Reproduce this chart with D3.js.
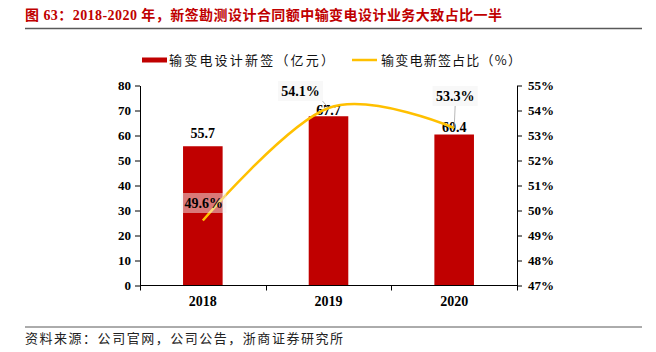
<!DOCTYPE html>
<html>
<head>
<meta charset="utf-8">
<script src="https://cdn.jsdelivr.net/npm/d3@7"></script>
<style>
body { margin:0; background:#fff; }
svg { display:block; }
</style>
</head>
<body>
<script>
var years = ["2018", "2019", "2020"];
var signed = [55.7, 67.7, 60.4];
var share = [49.6, 54.1, 53.3];
var leftTicks = [0, 10, 20, 30, 40, 50, 60, 70, 80];
var rightTicks = [47, 48, 49, 50, 51, 52, 53, 54, 55];

var titleText = "图 63：2018-2020 年，新签勘测设计合同额中输变电设计业务大致占比一半";
var legendBar = "输变电设计新签（亿元）";
var legendLine = "输变电新签占比（%）";
var sourceText = "资料来源：公司官网，公司公告，浙商证券研究所";

function main(){
	var w = 656, h = 352;
	var left = 140, right = 517, top = 85.5, bottom = 285.5;
	var serif = "'Liberation Serif','Times New Roman','Noto Sans CJK SC',serif";
	var cjk = "'Noto Sans CJK SC','Liberation Serif',sans-serif";

	var data = years.map(function(y, i){ return {year: y, signed: signed[i], share: share[i]}; });

	var svg = d3.select("body").append("svg")
				.attr("width", w)
				.attr("height", h);

	// title + rule
	svg.append("text")
			.attr("x", 25)
			.attr("y", 20)
			.text(titleText)
			.attr("fill", "#C00000")
			.attr("font-weight", "bold")
			.attr("font-size", 14)
			.attr("textLength", 477)
			.attr("lengthAdjust", "spacing")
			.attr("font-family", serif);

	svg.append("line")
			.attr("x1", 25).attr("x2", 642)
			.attr("y1", 28.5).attr("y2", 28.5)
			.attr("stroke", "#595959")
			.attr("stroke-width", 1.5);

	// legend
	svg.append("rect")
			.attr("x", 142).attr("y", 57.5)
			.attr("width", 25).attr("height", 5)
			.attr("fill", "#C00000");
	svg.append("text")
			.attr("x", 169).attr("y", 65)
			.text(legendBar)
			.attr("font-size", 13)
			.attr("textLength", 165)
			.attr("lengthAdjust", "spacing")
			.attr("fill", "#111")
			.attr("font-family", cjk);
	svg.append("line")
			.attr("x1", 352).attr("x2", 377)
			.attr("y1", 60).attr("y2", 60)
			.attr("stroke", "#FFC000")
			.attr("stroke-width", 2.5);
	svg.append("text")
			.attr("x", 381).attr("y", 65)
			.text(legendLine)
			.attr("font-size", 13)
			.attr("textLength", 140)
			.attr("lengthAdjust", "spacing")
			.attr("fill", "#111")
			.attr("font-family", cjk);

	var xScale = d3.scaleBand()
					.domain(years)
					.range([left, right]);

	var yScale = d3.scaleLinear()
					.domain([0, 80])
					.range([bottom, top]);

	var y2Scale = d3.scaleLinear()
					.domain([47, 55])
					.range([bottom, top]);

	var barW = xScale.bandwidth() * 0.315;

	// bars
	svg.selectAll(".bar")
			.data(data)
			.enter()
			.append("rect")
			.attr("class", "bar")
			.attr("x", function(d){ return xScale(d.year) + xScale.bandwidth()/2 - barW/2; })
			.attr("y", function(d){ return yScale(d.signed); })
			.attr("width", barW)
			.attr("height", function(d){ return bottom - yScale(d.signed); })
			.attr("fill", "#C00000");

	// axes
	var yAxis = d3.axisLeft(yScale).tickValues(leftTicks).tickSize(5).tickSizeOuter(0);
	var y2Axis = d3.axisRight(y2Scale).tickValues(rightTicks).tickSize(5).tickSizeOuter(0)
					.tickFormat(function(d){ return d + "%"; });

	var gy = svg.append("g")
			.attr("class", "yaxis")
			.attr("transform", "translate(" + left + ",0)")
			.call(yAxis);
	var gy2 = svg.append("g")
			.attr("class", "y2axis")
			.attr("transform", "translate(" + right + ",0)")
			.call(y2Axis);

	[gy, gy2].forEach(function(g){
		g.selectAll("text")
			.attr("font-size", 13)
			.attr("font-weight", "bold")
			.attr("font-family", serif)
			.attr("fill", "#000");
		g.selectAll("line, path").attr("stroke", "#000");
	});
	gy.selectAll("text").attr("x", -9);
	gy2.selectAll("text").attr("x", 11);

	// x baseline + ticks
	svg.append("line")
			.attr("x1", left).attr("x2", right)
			.attr("y1", bottom).attr("y2", bottom)
			.attr("stroke", "#000");
	var bounds = years.map(function(y){ return xScale(y); }).concat([right]);
	svg.selectAll(".xtick")
			.data(bounds)
			.enter()
			.append("line")
			.attr("x1", function(d){ return Math.round(d) + 0.5; })
			.attr("x2", function(d){ return Math.round(d) + 0.5; })
			.attr("y1", bottom)
			.attr("y2", bottom + 5)
			.attr("stroke", "#000");

	svg.selectAll(".xlabel")
			.data(years)
			.enter()
			.append("text")
			.attr("x", function(d){ return xScale(d) + xScale.bandwidth()/2; })
			.attr("y", 306)
			.text(function(d){ return d; })
			.attr("text-anchor", "middle")
			.attr("font-size", 14)
			.attr("font-weight", "bold")
			.attr("font-family", serif);

	// bar value labels
	var barLift = [8, 1, 3];
	svg.selectAll(".barlabel")
			.data(data)
			.enter()
			.append("text")
			.attr("x", function(d){ return xScale(d.year) + xScale.bandwidth()/2; })
			.attr("y", function(d, i){ return yScale(d.signed) - barLift[i]; })
			.text(function(d){ return d.signed.toFixed(1); })
			.attr("text-anchor", "middle")
			.attr("font-size", 14)
			.attr("font-weight", "bold")
			.attr("font-family", serif);

	// share line
	var line = d3.line()
				.x(function(d){ return xScale(d.year) + xScale.bandwidth()/2; })
				.y(function(d){ return y2Scale(d.share); })
				.curve(d3.curveCardinal.tension(0));

	svg.append("path")
			.datum(data)
			.attr("d", line)
			.attr("fill", "none")
			.attr("stroke", "#FFC000")
			.attr("stroke-width", 2.5);

	// share labels with boxes and leader lines
	var pctOffset = [[1, -17.5], [-28, -17], [1, -32]];
	var pg = svg.selectAll(".pct")
			.data(data)
			.enter()
			.append("g")
			.attr("class", "pct");

	pg.filter(function(d, i){ return i > 0; })
			.append("line")
			.attr("x1", function(d){ return xScale(d.year) + xScale.bandwidth()/2; })
			.attr("y1", function(d){ return y2Scale(d.share); })
			.attr("x2", function(d){
				var i = data.indexOf(d);
				return xScale(d.year) + xScale.bandwidth()/2 + pctOffset[i][0] + (i === 1 ? 22 : 0);
			})
			.attr("y2", function(d){
				var i = data.indexOf(d);
				return y2Scale(d.share) + pctOffset[i][1] + 10;
			})
			.attr("stroke", "#A6A6A6")
			.attr("stroke-width", 0.8);

	pg.append("rect")
			.attr("x", function(d, i){ return xScale(d.year) + xScale.bandwidth()/2 + pctOffset[i][0] - 22.5; })
			.attr("y", function(d, i){ return y2Scale(d.share) + pctOffset[i][1] - 10; })
			.attr("width", 45)
			.attr("height", 20)
			.attr("fill", "#F2F2F2")
			.attr("fill-opacity", 0.5);

	pg.append("text")
			.attr("x", function(d, i){ return xScale(d.year) + xScale.bandwidth()/2 + pctOffset[i][0]; })
			.attr("y", function(d, i){ return y2Scale(d.share) + pctOffset[i][1] + 5; })
			.text(function(d){ return d.share.toFixed(1) + "%"; })
			.attr("text-anchor", "middle")
			.attr("font-size", 14)
			.attr("font-weight", "bold")
			.attr("font-family", serif);

	// source
	svg.append("line")
			.attr("x1", 25).attr("x2", 642)
			.attr("y1", 327).attr("y2", 327)
			.attr("stroke", "#595959")
			.attr("stroke-width", 1);
	svg.append("text")
			.attr("x", 25).attr("y", 343)
			.text(sourceText)
			.attr("font-size", 13)
			.attr("textLength", 318)
			.attr("lengthAdjust", "spacing")
			.attr("fill", "#222")
			.attr("font-family", cjk);
}

main();
</script>
</body>
</html>
